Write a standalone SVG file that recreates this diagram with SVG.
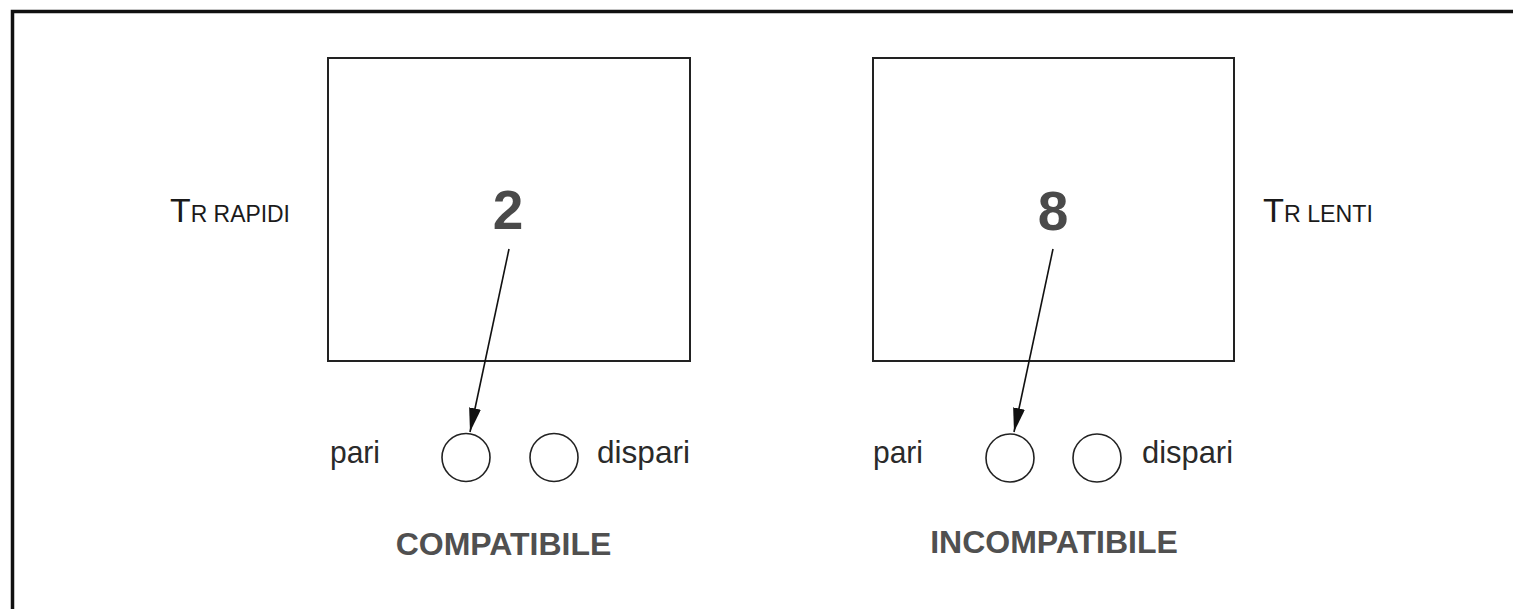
<svg xmlns="http://www.w3.org/2000/svg" width="1513" height="609" viewBox="0 0 1513 609">
<style>
text{font-family:"Liberation Sans",Arial,sans-serif}
.box{fill:#fff;stroke:#222;stroke-width:2}
.dot{fill:#fff;stroke:#222;stroke-width:1.6}
.lbl{font-size:32px;fill:#2a2a2a}
.tr{font-size:34px;fill:#1a1a1a}
.tr tspan.s{font-size:23px}
.num{font-size:55px;font-weight:bold;fill:#4a4a4a;text-anchor:middle}
.res{font-size:32px;font-weight:bold;fill:#505050;text-anchor:middle}
.conn{stroke:#111;stroke-width:1.6;fill:none;marker-end:url(#ah)}
</style>
<defs>
<marker id="ah" viewBox="0 0 24 12" refX="24" refY="6" markerWidth="24" markerHeight="12" markerUnits="userSpaceOnUse" orient="auto">
<path d="M0,0 L24,6 L0,12 z" fill="#111"/>
</marker>
</defs>
<rect width="1513" height="609" fill="#fff"/>
<rect x="12.5" y="11.5" width="1600" height="700" fill="none" stroke="#111" stroke-width="3.5"/>
<g id="left-box">
<rect class="box" x="328" y="58" width="362" height="303"/>
<text class="num" x="508" y="229">2</text>
</g>
<g id="left-label"><text class="tr" x="170" y="222" textLength="120" lengthAdjust="spacingAndGlyphs">T<tspan class="s">R RAPIDI</tspan></text></g>
<g id="left-pari"><text class="lbl" x="330" y="463" textLength="50" lengthAdjust="spacingAndGlyphs">pari</text></g>
<g id="left-c1"><circle class="dot" cx="466" cy="457.5" r="24"/></g>
<g id="left-c2"><circle class="dot" cx="554" cy="457.5" r="24"/></g>
<g id="left-dispari"><text class="lbl" x="597" y="463" textLength="93" lengthAdjust="spacingAndGlyphs">dispari</text></g>
<g id="left-result"><text class="res" x="503.5" y="555">COMPATIBILE</text></g>
<g id="right-box">
<rect class="box" x="873" y="58" width="361" height="303"/>
<text class="num" x="1053" y="230">8</text>
</g>
<g id="right-label"><text class="tr" x="1263" y="222" textLength="110" lengthAdjust="spacingAndGlyphs">T<tspan class="s">R LENTI</tspan></text></g>
<g id="right-pari"><text class="lbl" x="873" y="463" textLength="50" lengthAdjust="spacingAndGlyphs">pari</text></g>
<g id="right-c1"><circle class="dot" cx="1010" cy="458" r="24"/></g>
<g id="right-c2"><circle class="dot" cx="1097" cy="458" r="24"/></g>
<g id="right-dispari"><text class="lbl" x="1142" y="463" textLength="91" lengthAdjust="spacingAndGlyphs">dispari</text></g>
<g id="right-result"><text class="res" x="1054" y="553">INCOMPATIBILE</text></g>
<g id="connectors">
<line class="conn" x1="509" y1="249" x2="470" y2="432"/>
<line class="conn" x1="1053" y1="249" x2="1014" y2="432"/>
</g>
</svg>
